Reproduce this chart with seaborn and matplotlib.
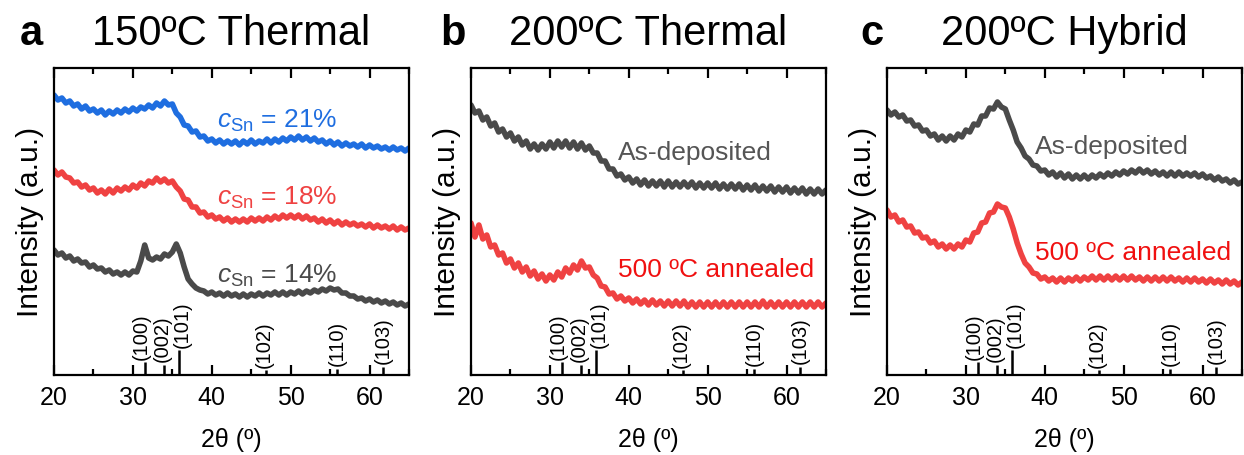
import numpy as np
import pandas as pd
import matplotlib
matplotlib.use('Agg')
import matplotlib.pyplot as plt
from matplotlib.ticker import MultipleLocator
import seaborn as sns

# ---------------- data ----------------
two_theta = np.arange(20.0, 65.01, 0.5)

a_csn21 = [280, 275, 277, 272, 274, 269, 271, 266, 269, 264,
           266, 262, 265, 260, 264, 261, 265, 262, 266, 263,
           267, 264, 268, 266, 270, 267, 272, 269, 274, 270,
           271, 262, 258, 250, 249, 243, 244, 238, 239, 234,
           236, 232, 235, 231, 234, 231, 234, 230, 234, 231,
           235, 231, 234, 232, 236, 232, 236, 233, 237, 234,
           238, 235, 239, 235, 238, 234, 237, 233, 235, 231,
           234, 230, 233, 229, 232, 229, 231, 228, 231, 227,
           230, 227, 229, 226, 228, 225, 228, 225, 227, 224,
           227]
a_csn18 = [205, 200, 203, 198, 197, 192, 193, 188, 190, 185,
           187, 182, 185, 181, 186, 182, 187, 184, 188, 185,
           190, 187, 192, 189, 194, 192, 197, 193, 196, 192,
           194, 188, 184, 176, 175, 168, 168, 162, 163, 158,
           160, 156, 158, 154, 157, 153, 156, 153, 156, 153,
           157, 154, 157, 154, 158, 155, 159, 156, 160, 157,
           160, 157, 160, 156, 159, 155, 157, 153, 156, 152,
           155, 151, 154, 150, 153, 150, 152, 149, 151, 148,
           151, 147, 150, 147, 149, 146, 149, 145, 148, 145,
           147]
a_csn14 = [125, 120, 122, 117, 119, 114, 116, 112, 113, 108,
           110, 106, 107, 103, 105, 101, 103, 100, 103, 100,
           104, 103, 114, 130, 117, 115, 118, 116, 121, 119,
           123, 131, 122, 108, 96, 91, 87, 85, 84, 81,
           83, 80, 82, 79, 82, 79, 81, 78, 81, 78,
           81, 79, 82, 79, 82, 80, 83, 80, 83, 80,
           83, 81, 84, 81, 84, 82, 85, 83, 86, 84,
           87, 85, 86, 82, 82, 79, 79, 76, 77, 74,
           76, 73, 75, 72, 74, 71, 73, 70, 72, 69,
           71]
b_asdep = [270, 262, 264, 255, 258, 249, 252, 243, 246, 238,
           242, 234, 238, 230, 234, 226, 231, 225, 231, 226,
           233, 227, 234, 228, 234, 227, 233, 226, 232, 225,
           229, 222, 222, 214, 214, 206, 206, 199, 201, 195,
           198, 192, 196, 190, 195, 189, 194, 189, 194, 188,
           194, 188, 193, 188, 193, 188, 193, 187, 192, 187,
           192, 187, 192, 186, 191, 186, 191, 186, 191, 185,
           190, 185, 190, 184, 189, 184, 189, 183, 188, 183,
           188, 182, 187, 182, 187, 181, 186, 181, 186, 181,
           185]
b_ann500 = [152, 138, 150, 136, 140, 128, 130, 120, 122, 112,
            116, 107, 112, 103, 108, 99, 104, 96, 101, 94,
            100, 95, 103, 98, 107, 102, 110, 105, 114, 107,
            108, 100, 97, 89, 88, 81, 82, 76, 79, 74,
            77, 72, 76, 71, 75, 70, 75, 70, 74, 69,
            74, 69, 74, 69, 74, 68, 73, 68, 73, 68,
            73, 68, 73, 68, 73, 68, 73, 68, 73, 68,
            73, 68, 73, 68, 74, 68, 73, 68, 73, 68,
            73, 68, 73, 68, 73, 68, 73, 68, 73, 68,
            72]
c_asdep = [265, 260, 263, 258, 260, 254, 255, 249, 250, 244,
           245, 239, 241, 235, 239, 234, 239, 235, 241, 238,
           245, 243, 251, 250, 259, 259, 267, 266, 273, 268,
           266, 255, 245, 233, 227, 219, 216, 210, 209, 204,
           205, 200, 203, 198, 202, 197, 201, 196, 200, 196,
           200, 196, 200, 197, 201, 198, 202, 199, 203, 200,
           204, 201, 205, 202, 206, 202, 205, 201, 204, 200,
           203, 199, 203, 199, 203, 199, 202, 199, 202, 198,
           201, 197, 199, 195, 198, 194, 196, 192, 195, 191,
           193]
c_ann500 = [165, 158, 160, 153, 155, 148, 149, 142, 143, 137,
            138, 132, 134, 128, 131, 126, 130, 126, 131, 128,
            135, 133, 142, 143, 152, 153, 162, 163, 171, 168,
            167, 158, 146, 132, 121, 112, 108, 102, 101, 96,
            98, 94, 97, 93, 97, 93, 97, 94, 98, 94,
            98, 95, 99, 95, 99, 95, 99, 95, 99, 95,
            99, 95, 99, 95, 98, 94, 98, 94, 98, 94,
            98, 94, 98, 94, 97, 93, 97, 93, 97, 93,
            96, 92, 96, 92, 95, 91, 95, 91, 94, 90,
            93]

ref_pos = [31.5, 33.9, 35.8, 46.9, 55.9, 61.7]
ref_height = [13, 10, 25, 5, 6, 8]
ref_labels = ['(100)', '(002)', '(101)', '(102)', '(110)', '(103)']

panel_letters = ['a', 'b', 'c']
panel_titles = ['150ºC Thermal', '200ºC Thermal', '200ºC Hybrid']

BLUE = '#1f6ee0'
RED = '#ef4242'
GRAY = '#4a4a4a'
TXT_RED = '#f01010'
TXT_GRAY = '#555555'

# ---------------- style ----------------
sns.set_theme(style='ticks')
plt.rcParams['font.family'] = ['Liberation Sans', 'DejaVu Sans']
plt.rcParams['mathtext.fontset'] = 'custom'
plt.rcParams['mathtext.rm'] = 'Liberation Sans'
plt.rcParams['mathtext.it'] = 'Liberation Sans:italic'
plt.rcParams['axes.linewidth'] = 1.6
plt.rcParams['text.color'] = 'black'
plt.rcParams['axes.labelcolor'] = 'black'

W, H = 1244, 455
fig = plt.figure(figsize=(W / 100, H / 100), dpi=100)

lefts = [54, 471, 887]
aw, ah = 355, 307
bottom_px = 375
letter_x = [20, 440, 860]

series = {
    0: [(a_csn21, BLUE), (a_csn18, RED), (a_csn14, GRAY)],
    1: [(b_asdep, GRAY), (b_ann500, RED)],
    2: [(c_asdep, GRAY), (c_ann500, RED)],
}

label_dx = [-0.45, -0.2, 0.45, -0.3, 0.0, 0.0]

axes = []
for i in range(3):
    ax = fig.add_axes([lefts[i] / W, (H - bottom_px) / H, aw / W, ah / H])
    axes.append(ax)
    for vals, col in series[i]:
        df = pd.DataFrame({'2theta': two_theta, 'I': vals})
        sns.lineplot(data=df, x='2theta', y='I', ax=ax, color=col, lw=4.0,
                     legend=False, sort=False)
    # reference sticks
    ax.vlines(ref_pos, 0, ref_height, color='black', lw=1.8)
    for p, hgt, lab, dx in zip(ref_pos, ref_height, ref_labels, label_dx):
        ax.text(p + dx, hgt + 2.5, lab, rotation=90, ha='center', va='bottom',
                fontsize=14.5, color='black')
    ax.set_xlim(20, 65)
    ax.set_ylim(0, 307)
    ax.xaxis.set_major_locator(MultipleLocator(10))
    ax.xaxis.set_minor_locator(MultipleLocator(5))
    ax.tick_params(axis='x', which='major', direction='in', length=7, width=1.6,
                   top=True, labelsize=18, pad=8, colors='black')
    ax.tick_params(axis='x', which='minor', direction='in', length=4, width=1.6,
                   top=True, colors='black')
    ax.set_yticks([])
    ax.set_xlabel('2θ (º)', fontsize=18, labelpad=13, color='black')
    ax.set_ylabel('Intensity (a.u.)', fontsize=21.5, labelpad=7, color='black')
    for s in ax.spines.values():
        s.set_color('black')
    cx = (lefts[i] + aw / 2) / W
    fig.text(cx, (H - 45) / H, panel_titles[i], ha='center', va='baseline',
             fontsize=30, color='black')
    fig.text(letter_x[i] / W, (H - 45) / H, panel_letters[i], ha='left',
             va='baseline', fontsize=30, fontweight='bold', color='black')

ax0, ax1, ax2 = axes
ax0.text(40.7, 247, r'$c_{\mathrm{Sn}}$ = 21%', color=BLUE, fontsize=19, va='baseline')
ax0.text(40.7, 170, r'$c_{\mathrm{Sn}}$ = 18%', color=RED, fontsize=19, va='baseline')
ax0.text(40.7, 92, r'$c_{\mathrm{Sn}}$ = 14%', color=GRAY, fontsize=19, va='baseline')
ax1.text(38.6, 215, 'As-deposited', color=TXT_GRAY, fontsize=19, va='baseline')
ax1.text(38.6, 98, '500 ºC annealed', color=TXT_RED, fontsize=19, va='baseline')
ax2.text(38.8, 221, 'As-deposited', color=TXT_GRAY, fontsize=19, va='baseline')
ax2.text(38.8, 115, '500 ºC annealed', color=TXT_RED, fontsize=19, va='baseline')

fig.savefig('out.png', dpi=100)
